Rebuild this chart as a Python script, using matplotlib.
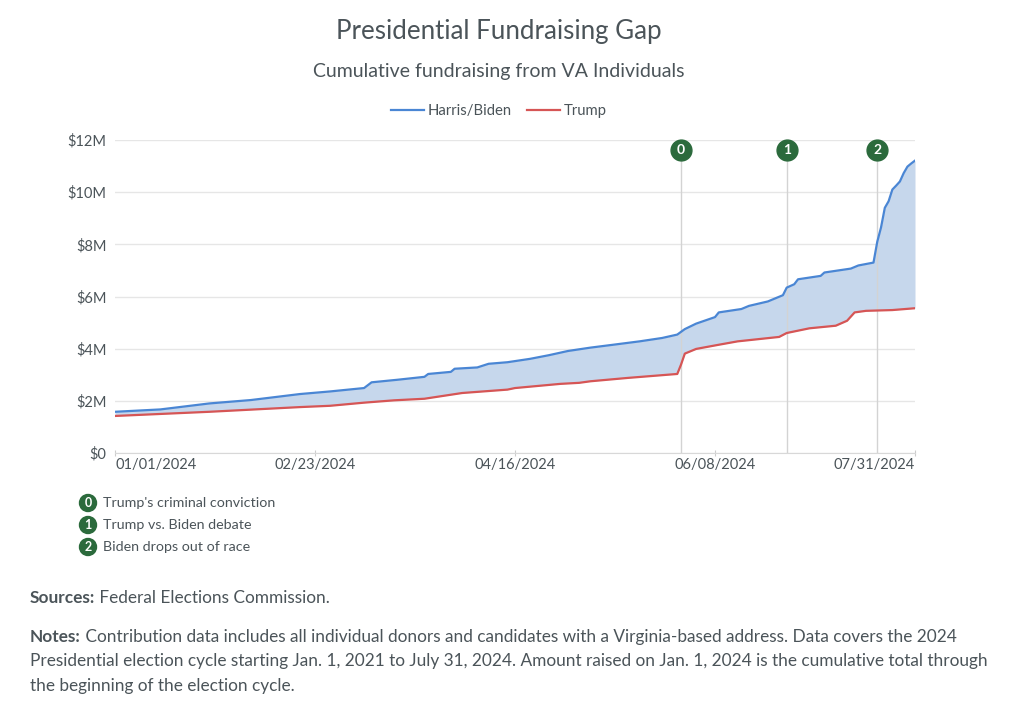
import pandas as pd
import matplotlib.pyplot as plt
import matplotlib.dates as mdates
from matplotlib.ticker import FuncFormatter

plt.rcParams['font.family'] = ['Lato', 'DejaVu Sans']

# cumulative totals, $M
blue_dates = ["2024-01-01", "2024-01-13", "2024-01-26", "2024-02-06", "2024-02-19",
              "2024-02-27", "2024-03-07", "2024-03-09", "2024-03-16", "2024-03-23",
              "2024-03-24", "2024-03-30", "2024-03-31", "2024-04-06", "2024-04-09",
              "2024-04-14", "2024-04-20", "2024-04-25", "2024-04-30", "2024-05-06",
              "2024-05-12", "2024-05-19", "2024-05-25", "2024-05-29", "2024-05-31",
              "2024-06-03", "2024-06-08", "2024-06-09", "2024-06-15", "2024-06-17",
              "2024-06-22", "2024-06-26", "2024-06-27", "2024-06-29", "2024-06-30",
              "2024-07-06", "2024-07-07", "2024-07-14", "2024-07-16", "2024-07-20",
              "2024-07-21", "2024-07-22", "2024-07-23", "2024-07-24", "2024-07-25",
              "2024-07-26", "2024-07-27", "2024-07-28", "2024-07-29", "2024-07-30",
              "2024-07-31"]
harris_biden = [1.58, 1.67, 1.90, 2.03, 2.26,
                2.36, 2.49, 2.71, 2.81, 2.92,
                3.03, 3.11, 3.23, 3.28, 3.42,
                3.48, 3.61, 3.75, 3.91, 4.04,
                4.15, 4.28, 4.41, 4.54, 4.75,
                4.96, 5.21, 5.39, 5.52, 5.64,
                5.81, 6.05, 6.34, 6.47, 6.66,
                6.79, 6.92, 7.07, 7.19, 7.30,
                8.10, 8.65, 9.40, 9.65, 10.10,
                10.25, 10.41, 10.73, 10.98, 11.10,
                11.21]

red_dates = ["2024-01-01", "2024-01-26", "2024-02-19", "2024-02-27", "2024-03-07",
             "2024-03-15", "2024-03-23", "2024-04-02", "2024-04-14", "2024-04-16",
             "2024-04-28", "2024-05-03", "2024-05-06", "2024-05-16", "2024-05-29",
             "2024-05-30", "2024-05-31", "2024-06-03", "2024-06-09", "2024-06-14",
             "2024-06-25", "2024-06-27", "2024-07-03", "2024-07-10", "2024-07-13",
             "2024-07-15", "2024-07-18", "2024-07-25", "2024-07-31"]
trump = [1.42, 1.58, 1.76, 1.81, 1.93,
         2.02, 2.08, 2.30, 2.43, 2.49,
         2.65, 2.69, 2.75, 2.88, 3.03,
         3.39, 3.81, 3.99, 4.15, 4.28,
         4.45, 4.60, 4.78, 4.88, 5.07,
         5.39, 5.45, 5.48, 5.55]

events = ["2024-05-30", "2024-06-27", "2024-07-21"]
event_labels = ["Trump's criminal conviction", "Trump vs. Biden debate", "Biden drops out of race"]
tick_dates = ["2024-01-01", "2024-02-23", "2024-04-16", "2024-06-08", "2024-07-31"]

blue_x = pd.to_datetime(blue_dates)
red_x = pd.to_datetime(red_dates)
ev_x = pd.to_datetime(events)

# fill between needs a common x axis
all_x = blue_x.union(red_x)
b_s = pd.Series(harris_biden, index=blue_x).reindex(all_x).interpolate(method="time")
r_s = pd.Series(trump, index=red_x).reindex(all_x).interpolate(method="time")

txt = "#4b5459"
blue = "#4a86d4"
red = "#d65555"
green = "#2b6a3c"

fig = plt.figure(figsize=(10.24, 7.12), dpi=100)
ax = fig.add_axes([115/1024, 1 - 453/712, 800/1024, 313/712])

ax.fill_between(all_x, r_s.values, b_s.values, color="#c6d7ec", lw=0, zorder=1)
ax.plot(blue_x, harris_biden, color=blue, lw=1.6, label="Harris/Biden", zorder=3)
ax.plot(red_x, trump, color=red, lw=1.6, label="Trump", zorder=3)

for i, d in enumerate(ev_x):
    ax.plot([d, d], [0, 11.25], color="#d3d3d3", lw=1, zorder=2)
    ax.plot(d, 11.62, marker="o", ms=15, color=green, mec=green, zorder=5, clip_on=False)
    ax.text(d, 11.62, str(i), color="white", fontsize=10, fontweight="bold",
            ha="center", va="center", zorder=6)

ax.set_xlim(pd.Timestamp("2024-01-01"), pd.Timestamp("2024-07-31"))
ax.set_ylim(0, 12)
ax.set_yticks([0, 2, 4, 6, 8, 10, 12])
ax.yaxis.set_major_formatter(FuncFormatter(lambda v, p: "$0" if v == 0 else f"${v:.0f}M"))
ax.set_xticks(pd.to_datetime(tick_dates))
ax.xaxis.set_major_formatter(mdates.DateFormatter("%m/%d/%Y"))
ax.grid(axis="y", color="#e6e6e6", lw=1)
ax.set_axisbelow(True)
for s in ["top", "right", "left"]:
    ax.spines[s].set_visible(False)
ax.spines["bottom"].set_color("#d8d8d8")
ax.tick_params(axis="y", length=0, labelsize=10.5, labelcolor=txt, pad=6)
ax.tick_params(axis="x", length=5, direction="inout", color="#cccccc",
               labelsize=10.5, labelcolor=txt, pad=1)
xl = ax.get_xticklabels()
xl[0].set_ha("left")
xl[-1].set_ha("right")

leg = ax.legend(loc="center", bbox_to_anchor=(0.48, 1 + 29/313), ncol=2, frameon=False,
                fontsize=10.7, handlelength=2.2, columnspacing=1.0, handletextpad=0.3)
for t in leg.get_texts():
    t.set_color(txt)

fig.text(0.487, 1 - 31/712, "Presidential Fundraising Gap", ha="center", va="center",
         fontsize=18.6, color=txt)
fig.text(0.487, 1 - 71/712, "Cumulative fundraising from VA Individuals", ha="center",
         va="center", fontsize=14, color=txt)

# event key under the chart
for i, lab in enumerate(event_labels):
    y = 1 - (503 + 22 * i) / 712
    fig.text(88/1024, y, str(i), ha="center", va="center", fontsize=9, fontweight="bold",
             color="white", bbox=dict(boxstyle="circle,pad=0.2", fc=green, ec=green))
    fig.text(103/1024, y, lab, ha="left", va="center", fontsize=10.3, color=txt)

renderer = fig.canvas.get_renderer()
note_fs = 12.4


def bold_line(x, y, head, rest):
    t = fig.text(x, y, head, ha="left", va="center", fontsize=note_fs, fontweight="bold", color=txt)
    w = t.get_window_extent(renderer).width / fig.bbox.width
    fig.text(x + w, y, " " + rest, ha="left", va="center", fontsize=note_fs, color=txt)


bold_line(30/1024, 1 - 598/712, "Sources:", "Federal Elections Commission.")
bold_line(30/1024, 1 - 637/712, "Notes:", "Contribution data includes all individual donors and candidates "
          "with a Virginia-based address. Data covers the 2024")
fig.text(30/1024, 1 - 661/712, "Presidential election cycle starting Jan. 1, 2021 to July 31, 2024. "
         "Amount raised on Jan. 1, 2024 is the cumulative total through",
         ha="left", va="center", fontsize=note_fs, color=txt)
fig.text(30/1024, 1 - 686/712, "the beginning of the election cycle.",
         ha="left", va="center", fontsize=note_fs, color=txt)

fig.savefig("out.png", dpi=100, facecolor="white")
